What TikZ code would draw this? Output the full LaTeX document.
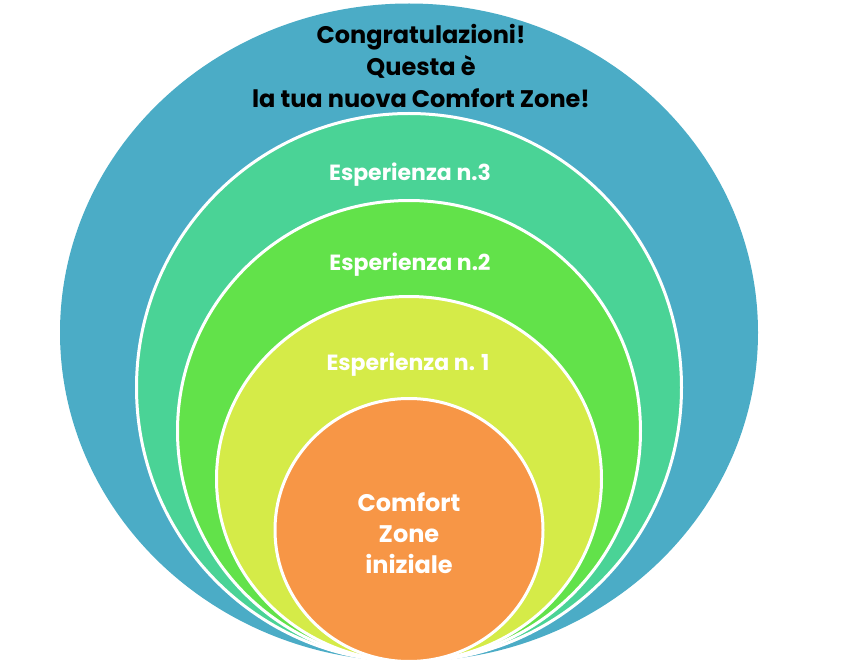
\documentclass[tikz,border=0pt]{standalone}
\usepackage{fontspec}
\setmainfont{Poppins}
\usetikzlibrary{shapes.geometric,positioning}
\definecolor{zoneblue}{RGB}{75,172,198}
\definecolor{zoneteal}{RGB}{74,211,150}
\definecolor{zonegreen}{RGB}{98,226,74}
\definecolor{zoneyellow}{RGB}{213,235,72}
\definecolor{zoneorange}{RGB}{247,150,70}

\begin{document}
\begin{tikzpicture}[x=1pt, y=-1pt,
        zone/.style={ellipse, draw=white, line width=3pt, inner sep=0pt, anchor=south},
        label/.style={align=center, text=white, font=\bfseries\fontsize{22}{30}\selectfont}]
        \useasboundingbox (0,0) rectangle (844,671);
        \coordinate (base) at (409,663);
                \node[zone, draw=none, fill=zoneblue, minimum width=698pt, minimum height=658pt]   (z_4) at (base) {};
                \node[zone, fill=zoneteal,   minimum width=545pt, minimum height=548pt]         (z_3) at (base) {};
                \node[zone, fill=zonegreen,  minimum width=463pt, minimum height=461pt]         (z_2) at (base) {};
                \node[zone, fill=zoneyellow, minimum width=385pt, minimum height=365pt]         (z_1) at (base) {};
                \node[zone, fill=zoneorange, minimum width=268pt, minimum height=263pt]         (z_0) at (base) {};

                \node[label, text=black, font=\bfseries\fontsize{24}{32}\selectfont] (t_4) at (421,66)  {Congratulazioni!\\Questa è\\la tua nuova Comfort Zone!};
                \node[label]            (t_3) at (410,175) {Esperienza n.3};
                \node[label]            (t_2) at (410,265) {Esperienza n.2};
                \node[label]            (t_1) at (408,365) {Esperienza n. 1};
                \node[label, font=\bfseries\fontsize{24}{31}\selectfont] (t_0) at (409,533) {Comfort\\Zone\\iniziale};
\end{tikzpicture}
\end{document}
